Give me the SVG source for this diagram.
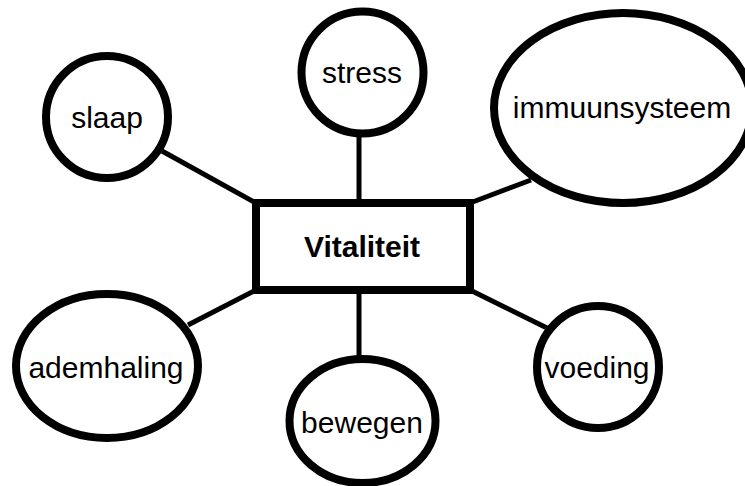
<svg xmlns="http://www.w3.org/2000/svg" width="745" height="486" viewBox="0 0 745 486">
<style>
.n{fill:#fff;stroke:#000;stroke-width:8}
.c{stroke:#000;stroke-width:5;fill:none}
.t{font-family:"Liberation Sans",Arial,sans-serif;font-size:30px;fill:#000;text-anchor:middle}
.b{font-weight:bold}
</style>
<rect width="745" height="486" fill="#fff"/>
<g id="connectors">
<line class="c" x1="162" y1="151" x2="256" y2="203"/>
<line class="c" x1="359" y1="135" x2="359" y2="203"/>
<line class="c" x1="531" y1="180" x2="470" y2="203"/>
<line class="c" x1="188" y1="325" x2="256" y2="290"/>
<line class="c" x1="359" y1="290" x2="359" y2="357"/>
<line class="c" x1="470" y1="290" x2="547" y2="328"/>
</g>
<g id="vitaliteit">
<rect class="n" x="256" y="203" width="214" height="87"/>
<text class="t b" x="362" y="257">Vitaliteit</text>
</g>
<g id="slaap">
<circle class="n" cx="107" cy="117" r="61"/>
<text class="t" x="107" y="128">slaap</text>
</g>
<g id="stress">
<circle class="n" cx="362.5" cy="72.5" r="61"/>
<text class="t" x="362" y="83">stress</text>
</g>
<g id="immuunsysteem">
<ellipse class="n" cx="623" cy="108" rx="129" ry="95"/>
<text class="t" x="622" y="118">immuunsysteem</text>
</g>
<g id="ademhaling">
<ellipse class="n" cx="107" cy="366" rx="91" ry="72"/>
<text class="t" x="106" y="378">ademhaling</text>
</g>
<g id="bewegen">
<ellipse class="n" cx="362.5" cy="421" rx="73" ry="62"/>
<text class="t" x="362" y="433">bewegen</text>
</g>
<g id="voeding">
<circle class="n" cx="598" cy="367" r="61"/>
<text class="t" x="597" y="378">voeding</text>
</g>
</svg>
